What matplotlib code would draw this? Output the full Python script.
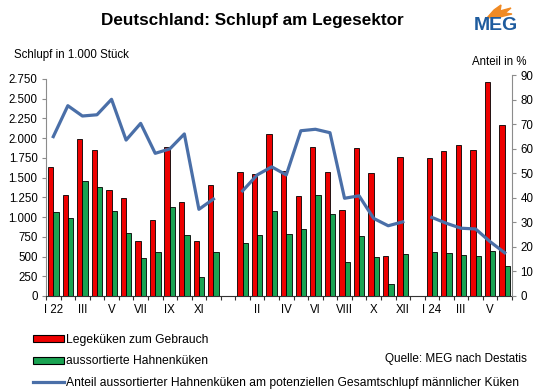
import numpy as np
import matplotlib.pyplot as plt
from matplotlib.patches import Patch, Polygon
from matplotlib.lines import Line2D
from matplotlib.ticker import FuncFormatter

plt.rcParams['font.family'] = ['Liberation Sans', 'DejaVu Sans']

# Schlupf in 1.000 Stück, Monate 2022 (12), 2023 (12), 2024 (6)
legekueken_2022 = [1630, 1275, 1985, 1855, 1340, 1245, 700, 960, 1885, 1185, 695, 1405]
hahnen_2022 = [1065, 990, 1455, 1375, 1075, 795, 485, 560, 1130, 775, 240, 555]
anteil_2022 = [64.9, 77.5, 73.3, 73.8, 80.1, 63.5, 70.3, 58.1, 59.9, 66.0, 35.3, 39.5]

legekueken_2023 = [1567, 1542, 2057, 1584, 1263, 1892, 1567, 1094, 1876, 1557, 510, 1766]
hahnen_2023 = [672, 773, 1077, 786, 849, 1284, 1039, 435, 765, 490, 148, 536]
anteil_2023 = [42.8, 49.3, 52.6, 49.3, 67.3, 67.9, 66.5, 39.8, 40.8, 31.6, 28.6, 30.2]

legekueken_2024 = [1753, 1838, 1914, 1854, 2708, 2163]
hahnen_2024 = [562, 549, 520, 507, 570, 380]
anteil_2024 = [32.0, 29.6, 27.6, 27.3, 22.1, 17.6]

labels_2022 = ["I 22", "", "III", "", "V", "", "VII", "", "IX", "", "XI", ""]
labels_2023 = ["", "II", "", "IV", "", "VI", "", "VIII", "", "X", "", "XII"]
labels_2024 = ["I 24", "", "III", "", "V", ""]

# Reihen zusammensetzen, mit einer leeren Stelle zwischen den Jahren
gap = [np.nan]
rot = np.array(legekueken_2022 + gap + legekueken_2023 + gap + legekueken_2024, dtype=float)
gruen = np.array(hahnen_2022 + gap + hahnen_2023 + gap + hahnen_2024, dtype=float)
anteil = np.array(anteil_2022 + gap + anteil_2023 + gap + anteil_2024, dtype=float)
xlabels = labels_2022 + [""] + labels_2023 + [""] + labels_2024
x = np.arange(len(rot)) + 0.5

fig = plt.figure(figsize=(5.39, 3.89), dpi=100)
ax = fig.add_axes([46 / 539, 1 - 296 / 389, (512 - 46) / 539, (296 - 75) / 389])

rot_farbe = '#ee0000'
gruen_farbe = '#1aa352'
linie_farbe = '#4a6fa8'
grau = '#8c8c8c'
fs = 8.3

w = 0.365
ax.bar(x - w / 2, rot, width=w, color=rot_farbe, edgecolor='black', linewidth=0.6)
ax.bar(x + w / 2, gruen, width=w, color=gruen_farbe, edgecolor='black', linewidth=0.6)

ax.set_xlim(0, len(rot))
ax.set_ylim(0, 2800)
ax.set_yticks(np.arange(0, 2751, 250))
ax.yaxis.set_major_formatter(FuncFormatter(lambda v, p: f"{int(v):,}".replace(",", ".")))
ax.set_xticks(x)
ax.set_xticklabels(xlabels)
ax.set_xticks(np.arange(0, len(rot) + 1), minor=True)
ax.tick_params(axis='x', which='major', length=0, pad=6, labelsize=fs)
ax.tick_params(axis='x', which='minor', length=3, width=0.8, color='#333333')
ax.tick_params(axis='y', length=3, width=0.8, color=grau, labelsize=fs, pad=3)

for s in ['top', 'right']:
    ax.spines[s].set_visible(False)
ax.spines['left'].set_color(grau)
ax.spines['left'].set_bounds(0, 2750)
ax.spines['bottom'].set_color('#333333')
ax.spines['bottom'].set_linewidth(0.8)

ax2 = ax.twinx()
ax2.plot(x, anteil, color=linie_farbe, linewidth=2.3)
ax2.set_ylim(0, 90)
ax2.set_yticks(np.arange(0, 91, 10))
ax2.tick_params(axis='y', length=3, width=0.8, color=grau, labelsize=fs, pad=3)
for s in ['top', 'left', 'bottom']:
    ax2.spines[s].set_visible(False)
ax2.spines['right'].set_color(grau)

fig.text(252 / 539, 1 - 21 / 389, "Deutschland: Schlupf am Legesektor",
         ha='center', va='center', fontsize=12.3, fontweight='bold')
fig.text(14 / 539, 1 - 55 / 389, "Schlupf in 1.000 Stück", ha='left', va='center', fontsize=fs)
fig.text(527 / 539, 1 - 62 / 389, "Anteil in %", ha='right', va='center', fontsize=fs)
fig.text(527 / 539, 1 - 359 / 389, "Quelle: MEG nach Destatis", ha='right', va='center', fontsize=8.5)

# MEG-Logo
fig.text(496 / 539, 1 - 26 / 389, "MEG", ha='center', va='center', fontsize=14, fontweight='bold',
         family=['Liberation Sans Narrow', 'Liberation Sans'], color='#1f5c9e')
flamme = Polygon([(487 / 539, 1 - 18 / 389), (494 / 539, 1 - 10 / 389), (501 / 539, 1 - 5 / 389),
                  (500 / 539, 1 - 11 / 389), (511 / 539, 1 - 8 / 389), (505 / 539, 1 - 13 / 389),
                  (512 / 539, 1 - 14 / 389), (500 / 539, 1 - 17 / 389)],
                 closed=True, transform=fig.transFigure, color='#f08a24')
fig.patches.append(flamme)

handles = [Patch(facecolor=rot_farbe, edgecolor='black', linewidth=0.8),
           Patch(facecolor=gruen_farbe, edgecolor='black', linewidth=0.8),
           Line2D([], [], color=linie_farbe, linewidth=2.3)]
namen = ["Legeküken zum Gebrauch", "aussortierte Hahnenküken",
         "Anteil aussortierter Hahnenküken am potenziellen Gesamtschlupf männlicher Küken"]
fig.legend(handles, namen, loc='upper left', bbox_to_anchor=(33 / 539, 1 - 334 / 389),
           frameon=False, fontsize=8.7, handlelength=2.55, handleheight=0.5,
           handletextpad=0.15, labelspacing=0.78, borderpad=0, borderaxespad=0)

fig.savefig("out.png", dpi=100)
